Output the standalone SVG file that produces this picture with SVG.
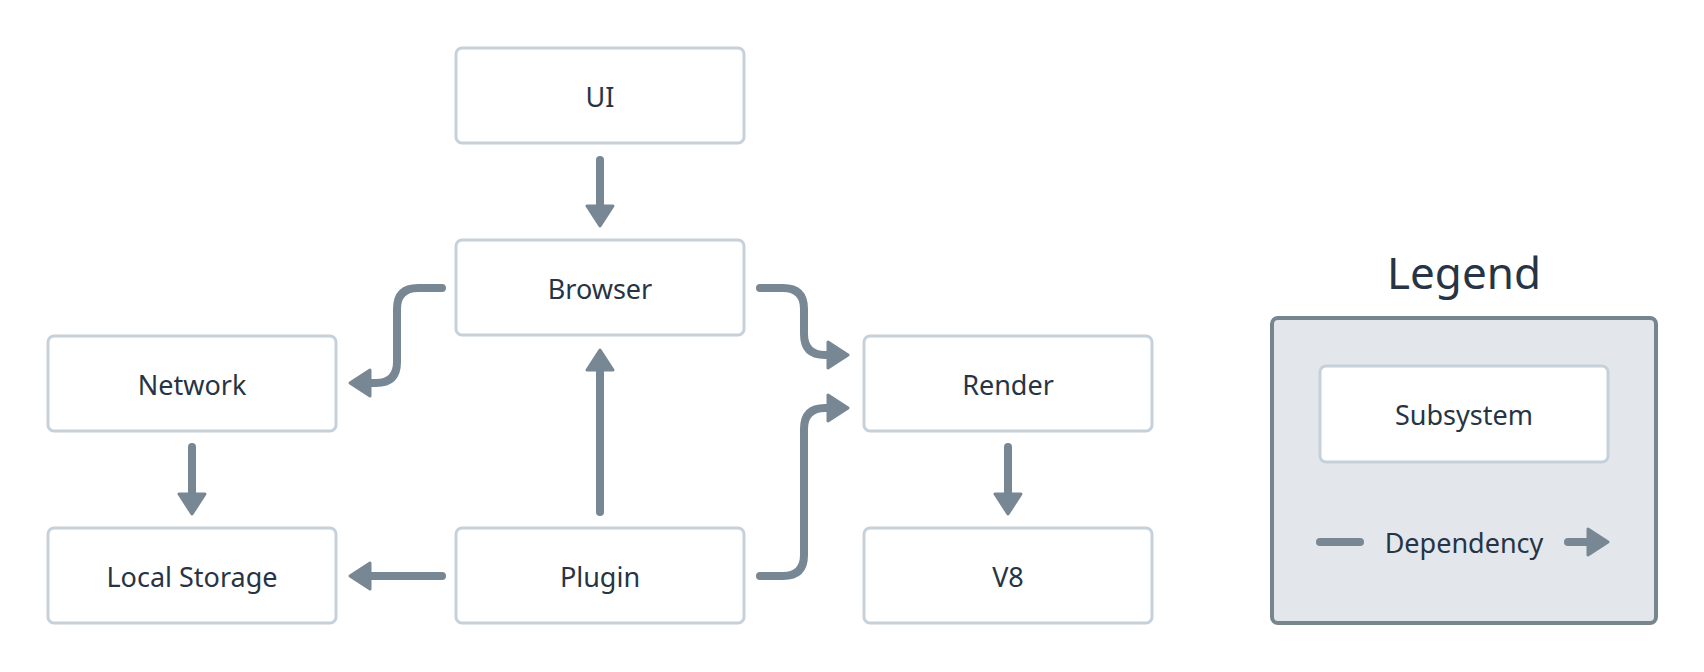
<svg xmlns="http://www.w3.org/2000/svg" width="1704" height="672" viewBox="0 0 1704 672">
<style>
.box{fill:#fff;stroke:#c5d0da;stroke-width:3}
.t{font-family:"Noto Sans","DejaVu Sans",sans-serif;font-size:27px;fill:#263445;text-anchor:middle;dominant-baseline:central}
.c{fill:none;stroke:#788794;stroke-width:8;stroke-linecap:round;stroke-linejoin:round}
</style>
<defs>
<marker id="a" markerUnits="userSpaceOnUse" markerWidth="30" markerHeight="30" viewBox="0 0 30 30" refX="4" refY="15" orient="auto">
<path d="M2,2 L22,15 L2,28 Z" fill="#788794" stroke="#788794" stroke-width="3" stroke-linejoin="round"/>
</marker>
</defs>
<rect width="1704" height="672" fill="#fff"/>
<g id="connectors">
<path class="c" marker-end="url(#a)" d="M600,160 V208"/>
<path class="c" marker-end="url(#a)" d="M442,288 H418 Q397,288 397,309 V362 Q397,383 376,383 H368"/>
<path class="c" marker-end="url(#a)" d="M760,288 H783 Q804,288 804,309 V334 Q804,355 825,355 H830"/>
<path class="c" marker-end="url(#a)" d="M760,576 H783 Q804,576 804,555 V429 Q804,408 825,408 H830"/>
<path class="c" marker-end="url(#a)" d="M600,512 V368"/>
<path class="c" marker-end="url(#a)" d="M442,576 H368"/>
<path class="c" marker-end="url(#a)" d="M192,447 V496"/>
<path class="c" marker-end="url(#a)" d="M1008,447 V496"/>
</g>
<g id="ui"><rect class="box" x="456" y="48" width="288" height="95" rx="6"/><text class="t" x="600" y="96">UI</text></g>
<g id="browser"><rect class="box" x="456" y="240" width="288" height="95" rx="6"/><text class="t" x="600" y="288">Browser</text></g>
<g id="network"><rect class="box" x="48" y="336" width="288" height="95" rx="6"/><text class="t" x="192" y="384">Network</text></g>
<g id="render"><rect class="box" x="864" y="336" width="288" height="95" rx="6"/><text class="t" x="1008" y="384">Render</text></g>
<g id="localstorage"><rect class="box" x="48" y="528" width="288" height="95" rx="6"/><text class="t" x="192" y="576">Local Storage</text></g>
<g id="plugin"><rect class="box" x="456" y="528" width="288" height="95" rx="6"/><text class="t" x="600" y="576">Plugin</text></g>
<g id="v8"><rect class="box" x="864" y="528" width="288" height="95" rx="6"/><text class="t" x="1008" y="576">V8</text></g>
<g id="legend">
<text class="t" x="1464" y="272" style="font-size:44px">Legend</text>
<rect x="1272" y="318" width="384" height="305" rx="6" fill="#e3e7eb" stroke="#77858f" stroke-width="4"/>
<rect class="box" x="1320" y="366" width="288" height="96" rx="6"/>
<text class="t" x="1464" y="414">Subsystem</text>
<path class="c" d="M1320,542 H1360"/>
<text class="t" x="1464" y="542">Dependency</text>
<path class="c" marker-end="url(#a)" d="M1568,542 H1590"/>
</g>
</svg>
